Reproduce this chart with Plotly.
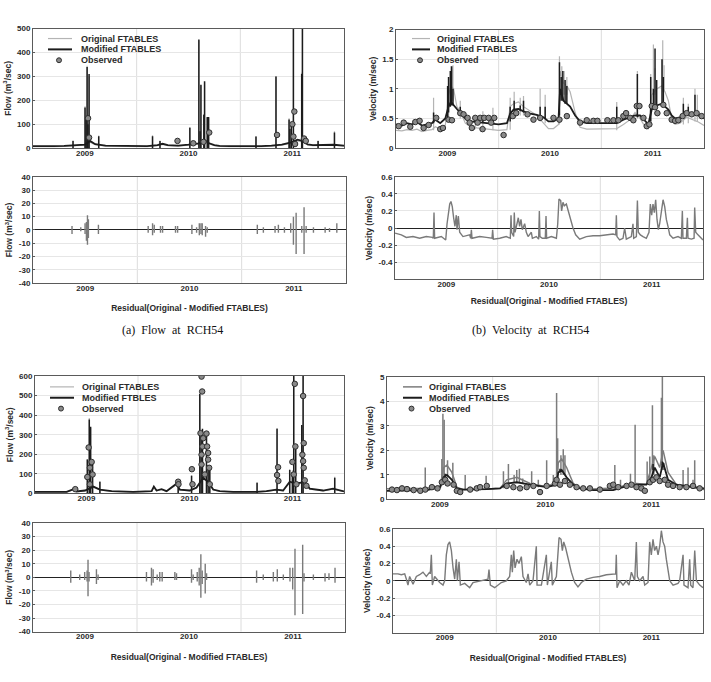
import plotly.graph_objects as go

W, H = 711, 682

# ---------------- data: (a) Flow at RCH54 ----------------
a_base_x = [2009.0, 2009.1, 2009.2, 2009.3, 2009.4, 2009.5, 2009.55, 2009.6, 2009.7, 2009.8, 2009.9,
            2010.0, 2010.1, 2010.2, 2010.25, 2010.3, 2010.4, 2010.5, 2010.6, 2010.65, 2010.7, 2010.75,
            2010.8, 2010.9, 2011.0, 2011.1, 2011.2, 2011.3, 2011.4, 2011.5, 2011.55, 2011.6, 2011.65,
            2011.7, 2011.8, 2011.9, 2012.0]
a_base_mod = [8, 7, 8, 9, 10, 14, 30, 16, 10, 9, 8, 7, 8, 12, 18, 12, 10, 14, 20, 35, 20, 12, 9, 8, 7,
              6, 8, 10, 14, 25, 35, 30, 15, 12, 12, 14, 10]
a_base_orig = [6, 5, 6, 7, 8, 12, 25, 14, 8, 7, 6, 5, 6, 10, 15, 10, 8, 12, 17, 30, 17, 10, 7, 6, 5,
               4, 6, 8, 12, 22, 30, 26, 13, 10, 10, 12, 8]
a_spk_x = [2009.386, 2009.502, 2009.512, 2009.522, 2009.530, 2009.541, 2009.634, 2010.153, 2010.225,
           2010.513, 2010.600, 2010.612, 2010.620, 2010.648, 2010.655, 2010.681, 2010.694, 2011.151,
           2011.344, 2011.470, 2011.478, 2011.492, 2011.512, 2011.592, 2011.599, 2011.750, 2011.908]
a_spk_mod = [30, 170, 120, 340, 100, 310, 50, 50, 30, 85, 455, 70, 265, 140, 280, 130, 130, 48, 300,
             120, 80, 100, 520, 310, 520, 30, 65]
a_spk_orig = [33, 175, 125, 345, 105, 300, 53, 54, 32, 88, 450, 72, 262, 142, 276, 127, 126, 50, 302,
              125, 82, 108, 510, 315, 510, 32, 70]
a_obs_x = [2009.531, 2009.541, 2010.394, 2010.546, 2010.645, 2010.700, 2011.354, 2011.502, 2011.512,
           2011.521, 2011.528, 2011.615, 2011.631]
a_obs_y = [125, 44, 30, 20, 26, 65, 55, 100, 48, 153, 17, 40, 30]
a_res_x = [2009.374, 2009.458, 2009.499, 2009.512, 2009.522, 2009.531, 2009.627, 2010.104, 2010.146,
           2010.162, 2010.222, 2010.242, 2010.366, 2010.386, 2010.523, 2010.568, 2010.594, 2010.610,
           2010.622, 2010.654, 2010.670, 2011.150, 2011.208, 2011.320, 2011.352, 2011.410, 2011.470,
           2011.496, 2011.522, 2011.576, 2011.598, 2011.618, 2011.688, 2011.800, 2011.842, 2011.912]
a_res_up = [3, 2, 5, 6, 11, 8, 4, 3, 5, 4, 3, 3, 3, 3, 4, 2, 5, 5, 5, 3, 2, 4, 2, 3, 4, 2, 5, 10, 13,
            3, 17, 3, 2, 2, 1.5, 5]
a_res_dn = [-3, -1, -3, -8, -11, -6, -3, -2, -4, -2, -2, -2, -2, -2, -3, -2, -4, -3, -4, -5, -2, -3,
            -2, -2, -2, -2, -2, -11, -18, -2, -18, -2, -2, -2, -1.5, -2]

# ---------------- data: (b) Velocity at RCH54 ----------------
b_base_x = [2009.000, 2009.058, 2009.107, 2009.156, 2009.204, 2009.253, 2009.302, 2009.350, 2009.383,
            2009.431, 2009.480, 2009.512, 2009.535, 2009.561, 2009.593, 2009.626, 2009.675, 2009.723,
            2009.788, 2009.853, 2009.918, 2009.999, 2010.080, 2010.112, 2010.145, 2010.193, 2010.242,
            2010.307, 2010.372, 2010.437, 2010.485, 2010.534, 2010.583, 2010.599, 2010.631, 2010.664,
            2010.696, 2010.745, 2010.793, 2010.858, 2010.923, 2010.988, 2011.053, 2011.150, 2011.215,
            2011.280, 2011.328, 2011.377, 2011.426, 2011.458, 2011.491, 2011.539, 2011.588, 2011.620,
            2011.653, 2011.685, 2011.718, 2011.766, 2011.831, 2011.896, 2011.945, 2012.000]
b_base_mod = [0.40, 0.38, 0.42, 0.40, 0.44, 0.38, 0.40, 0.42, 0.48, 0.42,
              0.50, 0.70, 0.78, 0.72, 0.66, 0.60, 0.50, 0.45, 0.44, 0.43,
              0.42, 0.40, 0.42, 0.58, 0.65, 0.66, 0.62, 0.58, 0.56, 0.52,
              0.45, 0.45, 0.50, 1.00, 0.80, 0.75, 0.70, 0.55, 0.45, 0.42,
              0.42, 0.42, 0.42, 0.42, 0.48, 0.52, 0.55, 0.55, 0.45, 0.40,
              0.65, 0.72, 0.75, 0.70, 0.65, 0.55, 0.50, 0.52, 0.60, 0.58,
              0.55, 0.50]
b_base_orig = [0.30, 0.29, 0.31, 0.30, 0.32, 0.28, 0.30, 0.31, 0.36, 0.32,
               0.38, 0.90, 1.05, 1.00, 0.70, 0.62, 0.42, 0.36, 0.34, 0.33,
               0.31, 0.30, 0.31, 0.70, 0.75, 0.78, 0.70, 0.62, 0.55, 0.42,
               0.33, 0.33, 0.40, 1.30, 1.10, 1.05, 0.95, 0.60, 0.35, 0.32,
               0.32, 0.32, 0.33, 0.33, 0.40, 0.48, 0.60, 0.50, 0.36, 0.32,
               0.90, 1.00, 1.05, 0.95, 0.80, 0.50, 0.40, 0.42, 0.52, 0.48,
               0.44, 0.38]
b_spk_mod_x = [2009.366, 2009.503, 2009.512, 2009.529, 2009.542, 2009.555, 2009.626, 2009.772, 2009.846,
               2009.944, 2010.112, 2010.151, 2010.210, 2010.242, 2010.404, 2010.453, 2010.592, 2010.609,
               2010.625, 2010.647, 2010.664, 2011.150, 2011.351, 2011.481, 2011.507, 2011.523, 2011.539,
               2011.591, 2011.604, 2011.799, 2011.847, 2011.912]
b_spk_mod_lo = [0.42, 0.50, 0.60, 0.70, 0.72, 0.72, 0.58, 0.44, 0.43, 0.42, 0.45, 0.62, 0.62, 0.60,
                0.52, 0.50, 0.55, 0.80, 0.80, 0.75, 0.75, 0.42, 0.52, 0.45, 0.65, 0.68, 0.70, 0.72,
                0.72, 0.52, 0.55, 0.55]
b_spk_mod_hi = [0.60, 1.05, 1.20, 1.30, 1.38, 1.00, 0.70, 0.52, 0.55, 0.55, 0.70, 0.80, 0.72, 0.80,
                0.70, 0.70, 1.45, 1.20, 1.30, 1.15, 1.05, 0.70, 1.25, 1.20, 1.00, 1.68, 1.15, 1.50,
                1.20, 0.75, 0.70, 0.90]
b_spk_orig_x = [2009.366, 2009.512, 2009.535, 2009.555, 2009.626, 2009.772, 2009.846, 2009.944,
                2010.112, 2010.151, 2010.210, 2010.242, 2010.404, 2010.453, 2010.592, 2010.615,
                2010.638, 2010.664, 2011.150, 2011.351, 2011.481, 2011.507, 2011.523, 2011.598,
                2011.611, 2011.799, 2011.847, 2011.912, 2011.935]
b_spk_orig_lo = [0.30, 0.50, 0.80, 0.80, 0.50, 0.32, 0.31, 0.30, 0.31, 0.55, 0.55, 0.55, 0.45, 0.42,
                 0.40, 0.90, 0.90, 0.90, 0.30, 0.50, 0.40, 0.90, 0.90, 0.95, 0.95, 0.40, 0.42, 0.45,
                 0.45]
b_spk_orig_hi = [0.85, 1.10, 1.38, 1.40, 0.80, 0.55, 0.62, 0.68, 0.85, 0.95, 0.85, 0.88, 1.00, 0.90,
                 1.55, 1.38, 1.30, 1.20, 0.78, 1.30, 1.25, 1.75, 1.35, 1.82, 1.40, 0.85, 0.75, 1.00,
                 0.90]
b_obs_x = [2009.026, 2009.075, 2009.139, 2009.188, 2009.230, 2009.269, 2009.318, 2009.392, 2009.431,
           2009.457, 2009.512, 2009.545, 2009.626, 2009.658, 2009.697, 2009.717, 2009.739, 2009.772,
           2009.795, 2009.820, 2009.843, 2009.859, 2009.902, 2009.927, 2009.957, 2010.048, 2010.138,
           2010.171, 2010.281, 2010.339, 2010.404, 2010.534, 2010.592, 2010.664, 2010.793, 2010.858,
           2010.923, 2010.962, 2011.059, 2011.118, 2011.166, 2011.215, 2011.241, 2011.280, 2011.312,
           2011.345, 2011.371, 2011.410, 2011.442, 2011.468, 2011.491, 2011.523, 2011.546, 2011.604,
           2011.637, 2011.685, 2011.718, 2011.750, 2011.792, 2011.831, 2011.880, 2011.928, 2011.977]
b_obs_y = [0.37, 0.43, 0.36, 0.44, 0.46, 0.34, 0.39, 0.51, 0.32, 0.34, 0.48, 0.47, 0.59, 0.57, 0.51,
           0.43, 0.34, 0.51, 0.43, 0.51, 0.32, 0.51, 0.51, 0.43, 0.51, 0.22, 0.54, 0.59, 0.57, 0.48,
           0.51, 0.51, 0.48, 0.54, 0.43, 0.47, 0.46, 0.46, 0.47, 0.47, 0.47, 0.54, 0.59, 0.51, 0.47,
           0.71, 0.71, 0.51, 0.37, 0.40, 0.71, 0.69, 0.59, 0.73, 0.59, 0.48, 0.46, 0.47, 0.54, 0.59,
           0.57, 0.59, 0.54]
b_res_x = [2009.000, 2009.062, 2009.110, 2009.175, 2009.240, 2009.305, 2009.364, 2009.373, 2009.380,
           2009.386, 2009.451, 2009.494, 2009.507, 2009.520, 2009.533, 2009.545, 2009.558, 2009.571,
           2009.584, 2009.597, 2009.604, 2009.617, 2009.630, 2009.662, 2009.727, 2009.737, 2009.744,
           2009.750, 2009.825, 2009.890, 2009.945, 2009.951, 2009.958, 2010.020, 2010.084, 2010.123,
           2010.130, 2010.136, 2010.156, 2010.162, 2010.169, 2010.188, 2010.201, 2010.214, 2010.227,
           2010.240, 2010.263, 2010.279, 2010.296, 2010.328, 2010.338, 2010.377, 2010.399, 2010.406,
           2010.412, 2010.435, 2010.464, 2010.471, 2010.477, 2010.523, 2010.572, 2010.585, 2010.597,
           2010.614, 2010.623, 2010.636, 2010.649, 2010.669, 2010.688, 2010.708, 2010.734, 2010.760,
           2010.799, 2010.864, 2010.929, 2010.994, 2011.059, 2011.124, 2011.150, 2011.156, 2011.162,
           2011.188, 2011.221, 2011.237, 2011.253, 2011.302, 2011.318, 2011.325, 2011.351, 2011.361,
           2011.370, 2011.390, 2011.416, 2011.448, 2011.474, 2011.487, 2011.500, 2011.513, 2011.526,
           2011.539, 2011.552, 2011.565, 2011.578, 2011.594, 2011.611, 2011.627, 2011.643, 2011.659,
           2011.676, 2011.708, 2011.757, 2011.789, 2011.799, 2011.805, 2011.838, 2011.848, 2011.854,
           2011.887, 2011.913, 2011.919, 2011.929, 2011.951, 2012.000]
b_res_y = [-0.06, -0.08, -0.11, -0.10, -0.12, -0.10, -0.11, -0.12, 0.18, -0.12,
           -0.10, -0.14, 0.05, 0.20, 0.28, 0.31, 0.25, 0.12, 0.02, 0.15,
           -0.02, 0.14, -0.05, -0.10, -0.08, -0.12, -0.02, -0.12, -0.10, -0.11,
           -0.12, -0.02, -0.13, -0.12, -0.10, -0.12, 0.15, -0.05, -0.10, 0.18,
           -0.05, 0.05, 0.12, 0.02, 0.10, -0.02, 0.05, -0.05, -0.10, -0.05,
           -0.12, -0.10, -0.13, 0.20, -0.10, -0.12, -0.12, 0.14, -0.12, -0.10,
           -0.12, 0.05, 0.34, 0.32, 0.20, 0.30, 0.26, 0.28, 0.20, 0.10,
           0.00, -0.08, -0.13, -0.10, -0.09, -0.09, -0.08, -0.07, -0.08, 0.15,
           -0.10, -0.14, -0.12, 0.00, -0.13, -0.10, 0.05, -0.12, -0.10, 0.32,
           -0.05, -0.08, -0.10, -0.12, -0.05, 0.28, 0.15, 0.28, 0.18, 0.33,
           0.10, -0.02, 0.05, 0.22, 0.33, 0.25, 0.10, 0.02, -0.08, -0.12,
           -0.10, -0.12, 0.20, -0.12, -0.12, 0.12, -0.12, -0.13, -0.12, 0.24,
           -0.05, -0.08, -0.14]

# ---------------- data: (c) Flow, second reach ----------------
c_base_x = [2009.000, 2009.307, 2009.388, 2009.404, 2009.485, 2009.566, 2009.630, 2009.744, 2009.954,
            2010.132, 2010.154, 2010.180, 2010.229, 2010.277, 2010.374, 2010.406, 2010.503, 2010.568,
            2010.633, 2010.681, 2010.730, 2010.794, 2010.924, 2011.150, 2011.247, 2011.344, 2011.409,
            2011.473, 2011.538, 2011.619, 2011.667, 2011.797, 2011.894, 2012.000]
c_base_mod = [8, 8, 25, 10, 15, 35, 20, 12, 8, 12, 35, 15, 22, 12, 50, 20, 15, 30, 80, 60, 20, 12, 8,
              8, 12, 20, 15, 60, 50, 60, 25, 15, 25, 10]
c_base_orig = [7, 7, 22, 9, 13, 32, 18, 11, 7, 11, 32, 13, 20, 11, 46, 18, 13, 27, 75, 56, 18, 11, 7,
               7, 11, 18, 13, 56, 46, 56, 22, 13, 22, 9]
c_spk_x = [2009.508, 2009.527, 2009.540, 2009.559, 2009.630, 2010.390, 2010.520, 2010.600, 2010.613,
           2010.626, 2010.665, 2010.681, 2010.697, 2011.156, 2011.350, 2011.473, 2011.499, 2011.512,
           2011.531, 2011.590, 2011.603, 2011.910]
c_spk_mod = [173, 378, 341, 150, 60, 65, 90, 510, 300, 330, 310, 140, 140, 55, 330, 120, 110, 620,
             250, 350, 620, 80]
c_spk_orig = [176, 385, 335, 155, 62, 68, 93, 505, 305, 320, 300, 145, 142, 57, 335, 125, 118, 615,
              255, 345, 615, 85]
c_obs_x = [2009.391, 2009.508, 2009.521, 2009.533, 2009.533, 2009.550, 2009.559, 2010.390, 2010.393,
           2010.523, 2010.529, 2010.607, 2010.617, 2010.617, 2010.617, 2010.623, 2010.626, 2010.633,
           2010.649, 2010.665, 2010.671, 2010.681, 2010.681, 2010.691, 2010.697, 2011.350, 2011.360,
           2011.363, 2011.499, 2011.512, 2011.522, 2011.528, 2011.538, 2011.596, 2011.603, 2011.603,
           2011.609, 2011.609, 2011.619, 2011.635]
c_obs_y = [22, 84, 235, 131, 47, 161, 97, 60, 47, 124, 47, 308, 597, 198, 148, 521, 240, 282, 97, 306,
           240, 207, 173, 131, 47, 94, 134, 64, 161, 97, 560, 240, 47, 198, 498, 165, 257, 131, 67, 39]
c_res_x = [2009.363, 2009.449, 2009.497, 2009.520, 2009.529, 2009.539, 2009.610, 2009.626, 2010.091,
           2010.139, 2010.155, 2010.194, 2010.219, 2010.242, 2010.364, 2010.380, 2010.524, 2010.540,
           2010.579, 2010.598, 2010.614, 2010.627, 2010.656, 2010.669, 2011.150, 2011.214, 2011.311,
           2011.349, 2011.407, 2011.471, 2011.497, 2011.519, 2011.593, 2011.606, 2011.696, 2011.808,
           2011.846, 2011.904]
c_res_up = [5, 2, 4, 5, 13, 4, 6, 2, 4, 7, 6, 2, 4, 4, 4, 3, 6, 2, 4, 7, 17, 5, 10, 3, 5, 2, 4, 6, 2,
            7, 7, 21, 24, 3, 2, 3, 3, 7]
c_res_dn = [-4, -2, -2, -3, -14, -3, -5, -2, -3, -6, -4, -2, -3, -3, -2, -2, -4, -2, -3, -6, -15, -5,
            -12, -2, -4, -2, -3, -3, -2, -3, -9, -28, -27, -3, -2, -3, -2, -4]

# ---------------- data: (d) Velocity, second reach ----------------
d_base_x = [2009.000, 2009.378, 2009.504, 2009.535, 2009.567, 2009.614, 2009.661, 2009.724, 2009.944,
            2010.070, 2010.133, 2010.228, 2010.354, 2010.511, 2010.605, 2010.621, 2010.653, 2010.700,
            2010.763, 2010.826, 2010.952, 2011.141, 2011.235, 2011.361, 2011.455, 2011.503, 2011.534,
            2011.581, 2011.613, 2011.660, 2011.739, 2011.833, 2012.000]
d_base_mod = [0.35, 0.38, 0.50, 0.90, 1.00, 0.80, 0.45, 0.40, 0.42, 0.45, 0.65, 0.70, 0.60, 0.50,
              0.60, 1.10, 1.20, 0.90, 0.60, 0.45, 0.38, 0.38, 0.50, 0.60, 0.60, 0.90, 1.30, 0.90,
              1.50, 0.80, 0.60, 0.55, 0.45]
d_base_orig = [0.43, 0.45, 0.55, 1.30, 1.40, 1.10, 0.50, 0.40, 0.42, 0.45, 0.80, 0.90, 0.65, 0.52,
               0.70, 1.50, 1.65, 1.30, 0.65, 0.45, 0.42, 0.46, 0.55, 0.65, 0.62, 1.30, 1.75, 1.30,
               2.00, 1.10, 0.60, 0.52, 0.40]
d_spk_orig_x = [2009.362, 2009.519, 2009.529, 2009.541, 2009.573, 2009.623, 2009.740, 2009.938,
                2010.102, 2010.149, 2010.203, 2010.228, 2010.253, 2010.284, 2010.369, 2010.432,
                2010.511, 2010.574, 2010.605, 2010.615, 2010.646, 2010.668, 2010.684, 2010.794,
                2011.156, 2011.210, 2011.304, 2011.348, 2011.462, 2011.487, 2011.512, 2011.525,
                2011.597, 2011.606, 2011.619, 2011.723, 2011.802, 2011.849, 2011.896, 2011.912]
d_spk_orig_lo = [0.40, 0.60, 0.60, 0.80, 0.90, 0.60, 0.40, 0.40, 0.45, 0.60, 0.70, 0.70, 0.70, 0.65,
                 0.55, 0.50, 0.50, 0.55, 0.60, 1.00, 1.00, 1.00, 1.00, 0.45, 0.40, 0.45, 0.55, 0.60,
                 0.60, 0.80, 1.00, 1.00, 1.20, 1.20, 1.20, 0.55, 0.55, 0.50, 0.50, 0.50]
d_spk_orig_hi = [1.30, 1.65, 3.50, 3.25, 1.60, 1.50, 1.00, 0.97, 1.15, 1.45, 1.00, 1.20, 1.25, 0.85,
                 1.15, 0.80, 1.60, 1.00, 4.35, 2.50, 1.80, 2.05, 1.80, 0.60, 1.40, 0.80, 1.05, 3.05,
                 1.55, 1.75, 3.85, 1.80, 4.15, 5.00, 1.50, 0.65, 1.20, 1.30, 0.80, 1.60]
d_spk_mod_x = [2009.551, 2010.637, 2011.518, 2011.606]
d_spk_mod_lo = [0.90, 1.10, 1.20, 1.40]
d_spk_mod_hi = [1.05, 1.25, 1.45, 1.55]
d_obs_x = [2009.047, 2009.094, 2009.142, 2009.189, 2009.252, 2009.315, 2009.362, 2009.425, 2009.478,
           2009.519, 2009.551, 2009.573, 2009.630, 2009.661, 2009.693, 2009.787, 2009.850, 2009.881,
           2009.944, 2010.133, 2010.196, 2010.259, 2010.322, 2010.385, 2010.448, 2010.511, 2010.590,
           2010.605, 2010.637, 2010.684, 2010.731, 2010.794, 2010.857, 2010.920, 2011.015, 2011.109,
           2011.141, 2011.188, 2011.267, 2011.314, 2011.361, 2011.408, 2011.440, 2011.487, 2011.518,
           2011.550, 2011.581, 2011.629, 2011.660, 2011.707, 2011.770, 2011.833, 2011.896, 2011.959]
d_obs_y = [0.40, 0.38, 0.45, 0.42, 0.38, 0.35, 0.40, 0.50, 0.45, 0.70, 0.80, 0.65, 0.60, 0.35, 0.30,
           0.40, 0.45, 0.50, 0.55, 0.55, 0.50, 0.45, 0.50, 0.55, 0.30, 0.55, 0.65, 0.80, 0.60, 0.75,
           0.60, 0.50, 0.45, 0.45, 0.40, 0.55, 0.60, 0.50, 0.55, 0.60, 0.50, 0.45, 0.35, 0.70, 0.80,
           0.90, 0.75, 0.80, 0.60, 0.55, 0.50, 0.50, 0.55, 0.45]
d_res_x = [2009.000, 2009.048, 2009.081, 2009.113, 2009.129, 2009.145, 2009.161, 2009.194, 2009.226,
           2009.258, 2009.290, 2009.323, 2009.355, 2009.361, 2009.371, 2009.381, 2009.403, 2009.452,
           2009.484, 2009.500, 2009.516, 2009.532, 2009.548, 2009.565, 2009.581, 2009.597, 2009.613,
           2009.623, 2009.639, 2009.652, 2009.694, 2009.742, 2009.774, 2009.839, 2009.919, 2009.929,
           2009.942, 2009.984, 2010.048, 2010.097, 2010.129, 2010.145, 2010.155, 2010.168, 2010.181,
           2010.200, 2010.219, 2010.242, 2010.258, 2010.290, 2010.307, 2010.323, 2010.355, 2010.387,
           2010.394, 2010.436, 2010.484, 2010.494, 2010.532, 2010.542, 2010.581, 2010.607, 2010.626,
           2010.639, 2010.652, 2010.671, 2010.694, 2010.726, 2010.758, 2010.790, 2010.823, 2010.871,
           2010.936, 2011.000, 2011.065, 2011.129, 2011.155, 2011.161, 2011.168, 2011.194, 2011.226,
           2011.258, 2011.284, 2011.307, 2011.339, 2011.355, 2011.365, 2011.387, 2011.420, 2011.436,
           2011.468, 2011.484, 2011.500, 2011.516, 2011.532, 2011.549, 2011.565, 2011.581, 2011.597,
           2011.613, 2011.629, 2011.645, 2011.662, 2011.678, 2011.710, 2011.758, 2011.774, 2011.807,
           2011.816, 2011.855, 2011.871, 2011.881, 2011.903, 2011.920, 2011.936, 2011.968, 2012.000]
d_res_y = [0.08, 0.08, 0.07, 0.08, 0.02, -0.05, 0.05, -0.04, 0.05, 0.07,
           0.10, 0.05, 0.10, 0.08, 0.30, -0.05, 0.05, -0.02, -0.05, 0.00,
           0.30, 0.42, 0.45, 0.35, 0.15, 0.02, 0.25, 0.00, 0.22, -0.05,
           -0.03, -0.08, -0.02, 0.00, 0.02, 0.13, -0.05, -0.08, -0.02, 0.00,
           0.05, 0.30, 0.10, 0.35, 0.15, 0.25, 0.20, 0.28, 0.05, -0.02,
           0.08, -0.05, 0.00, 0.40, -0.05, -0.05, 0.30, -0.05, 0.22, -0.05,
           0.05, 0.50, 0.48, 0.35, 0.45, 0.38, 0.25, 0.10, -0.02, -0.07,
           -0.02, 0.02, 0.04, 0.05, 0.07, 0.08, 0.08, 0.30, -0.08, 0.00,
           -0.05, 0.00, -0.05, 0.10, 0.00, 0.45, 0.05, 0.00, 0.05, -0.05,
           -0.02, 0.45, 0.30, 0.48, 0.35, 0.40, 0.30, 0.40, 0.58, 0.45,
           0.40, 0.25, 0.10, 0.00, -0.05, -0.03, 0.00, 0.30, -0.05, -0.08,
           0.25, -0.05, -0.08, 0.35, 0.00, -0.05, -0.08]

# ---------------- tick labels / legend labels / titles ----------------
year_tickvals = [2009.5, 2010.5, 2011.5]
year_labels = ["2009", "2010", "2011"]
year_bounds = [2010, 2011]
flow_a_ticks = [0, 100, 200, 300, 400, 500]
flow_c_ticks = [0, 100, 200, 300, 400, 500, 600]
vel_b_ticks = [0, 0.5, 1, 1.5, 2]
vel_b_labels = ["0", "0.5", "1", "1.5", "2"]
vel_d_ticks = [0, 1, 2, 3, 4, 5]
res_flow_ticks = [40, 30, 20, 10, 0, -10, -20, -30, -40]
res_flow_labels = ["40", "30", "20", "10", "0", "-10", "-20", "-30", "-40"]
res_vel_ticks = [0.6, 0.4, 0.2, 0, -0.2, -0.4]
res_vel_labels = ["0.6", "0.4", "0.2", "0", "-0.2", "-0.4"]
legend_labels_top = ["Original FTABLES", "Modified FTABLES", "Observed"]
legend_labels_c = ["Original FTABLES", "Modified FTBLES", "Observed"]
flow_title = "Flow (m<sup>3</sup>/sec)"
vel_title = "Velocity (m/sec)"
res_title = "Residual(Original - Modified FTABLES)"
cap_a = "(a)\u00a0\u00a0Flow\u00a0\u00a0at\u00a0\u00a0RCH54"
cap_b = "(b)\u00a0\u00a0Velocity\u00a0\u00a0at\u00a0\u00a0RCH54"

# ---------------- styles ----------------
C_ORIG = "#b4b4b4"
C_ORIG_D = "#7c7c7c"
C_MOD = "#1c1c1c"
C_RES = "#7a7a7a"
OBS_FILL = "#8a8a8a"
OBS_EDGE = "#2e2e2e"
TICKFONT = dict(family="Liberation Sans", size=8, color="#2a2a2a", weight="bold")
LEGFONT = dict(family="Liberation Sans", size=9, color="#2a2a2a", weight="bold")
TITLEF = dict(family="Liberation Sans", size=8.5, color="#2a2a2a", weight="bold")
CAPF = dict(family="Liberation Serif", size=12, color="#111111")


def segs(xs, lo, hi):
    X, Y = [], []
    for x, a, b in zip(xs, lo, hi):
        X += [x, x, None]
        Y += [a, b, None]
    return X, Y


fig = go.Figure()

panels = {
    1: dict(px=(33, 344), py=(25, 146), rng=[0, 500], tv=flow_a_ticks,
            tt=[str(v) for v in flow_a_ticks], title=flow_title, xt=None, xso=0),
    2: dict(px=(33, 346), py=(175, 283), rng=[-40, 40], tv=res_flow_ticks, tt=res_flow_labels,
            title=flow_title, xt=res_title, xso=13),
    3: dict(px=(396, 704), py=(26, 146), rng=[0, 2], tv=vel_b_ticks, tt=vel_b_labels, title=vel_title,
            xt=None, xso=0),
    4: dict(px=(395, 703), py=(175, 279), rng=[-0.6, 0.6], tv=res_vel_ticks, tt=res_vel_labels,
            title=vel_title, xt=res_title, xso=10),
    5: dict(px=(35, 344), py=(377, 496), rng=[0, 600], tv=flow_c_ticks,
            tt=[str(v) for v in flow_c_ticks], title=flow_title, xt=None, xso=0),
    6: dict(px=(33, 345), py=(526, 636), rng=[-40, 40], tv=res_flow_ticks, tt=res_flow_labels,
            title=flow_title, xt=res_title, xso=13),
    7: dict(px=(387, 704), py=(378, 502), rng=[0, 5], tv=vel_d_ticks,
            tt=[str(v) for v in vel_d_ticks], title=vel_title, xt=None, xso=0),
    8: dict(px=(393, 703), py=(532, 637), rng=[-0.6, 0.6], tv=res_vel_ticks, tt=res_vel_labels,
            title=vel_title, xt=res_title, xso=13),
}

layout = {}
shapes = []
for i, p in panels.items():
    xs = "" if i == 1 else str(i)
    xaxis = dict(
        domain=[p["px"][0] / W, p["px"][1] / W], anchor="y" + xs, range=[2009, 2012],
        tickmode="array", tickvals=year_tickvals, ticktext=year_labels, showgrid=False,
        showline=True, mirror=True, linecolor="#5a5a5a", linewidth=1, ticks="",
        ticklabelstandoff=-3, tickfont=TICKFONT, zeroline=False, fixedrange=True)
    if p["xt"]:
        xaxis["title"] = dict(text=p["xt"], font=TITLEF, standoff=p["xso"])
    layout["xaxis" + xs] = xaxis
    layout["yaxis" + xs] = dict(
        domain=[1 - p["py"][1] / H, 1 - p["py"][0] / H], anchor="x" + xs, range=p["rng"],
        tickmode="array", tickvals=p["tv"], ticktext=p["tt"], showgrid=True, gridcolor="#e6e6e6",
        gridwidth=1, showline=True, mirror=True, linecolor="#5a5a5a", linewidth=1,
        ticks="inside", ticklen=2, tickcolor="#5a5a5a", tickfont=TICKFONT,
        title=dict(text=p["title"], font=TITLEF, standoff=4),
        zeroline=(i % 2 == 0), zerolinecolor="#222222", zerolinewidth=1.3, fixedrange=True)
    for xb in year_bounds:
        shapes.append(dict(type="line", xref="x" + xs, yref="y" + xs + " domain", x0=xb, x1=xb,
                           y0=0, y1=1, line=dict(color="#dcdcdc", width=1), layer="below"))


def add_main(xa, ya, base_x, base_orig, base_mod, so, sm, obs_x, obs_y, c_orig, w_orig):
    X, Y = segs(*so)
    fig.add_trace(go.Scatter(x=X, y=Y, mode="lines", line=dict(color=c_orig, width=w_orig),
                             showlegend=False, xaxis=xa, yaxis=ya))
    fig.add_trace(go.Scatter(x=base_x, y=base_orig, mode="lines", line=dict(color=c_orig, width=w_orig),
                             showlegend=False, xaxis=xa, yaxis=ya))
    X, Y = segs(*sm)
    fig.add_trace(go.Scatter(x=X, y=Y, mode="lines", line=dict(color=C_MOD, width=1.5),
                             showlegend=False, xaxis=xa, yaxis=ya))
    fig.add_trace(go.Scatter(x=base_x, y=base_mod, mode="lines", line=dict(color=C_MOD, width=1.8),
                             showlegend=False, xaxis=xa, yaxis=ya))
    fig.add_trace(go.Scatter(x=obs_x, y=obs_y, mode="markers",
                             marker=dict(size=5.5, color=OBS_FILL, line=dict(color=OBS_EDGE, width=1)),
                             showlegend=False, xaxis=xa, yaxis=ya))


add_main("x", "y", a_base_x, a_base_orig, a_base_mod,
         (a_spk_x, [0] * len(a_spk_x), a_spk_orig), (a_spk_x, [0] * len(a_spk_x), a_spk_mod),
         a_obs_x, a_obs_y, C_ORIG, 1.2)
X, Y = segs(a_res_x, a_res_dn, a_res_up)
fig.add_trace(go.Scatter(x=X, y=Y, mode="lines", line=dict(color=C_RES, width=1.4), showlegend=False,
                         xaxis="x2", yaxis="y2"))

add_main("x3", "y3", b_base_x, b_base_orig, b_base_mod,
         (b_spk_orig_x, b_spk_orig_lo, b_spk_orig_hi), (b_spk_mod_x, b_spk_mod_lo, b_spk_mod_hi),
         b_obs_x, b_obs_y, C_ORIG, 1.2)
fig.add_trace(go.Scatter(x=b_res_x, y=b_res_y, mode="lines", line=dict(color=C_RES, width=1.4),
                         showlegend=False, xaxis="x4", yaxis="y4"))

add_main("x5", "y5", c_base_x, c_base_orig, c_base_mod,
         (c_spk_x, [0] * len(c_spk_x), c_spk_orig), (c_spk_x, [0] * len(c_spk_x), c_spk_mod),
         c_obs_x, c_obs_y, C_ORIG, 1.2)
X, Y = segs(c_res_x, c_res_dn, c_res_up)
fig.add_trace(go.Scatter(x=X, y=Y, mode="lines", line=dict(color=C_RES, width=1.4), showlegend=False,
                         xaxis="x6", yaxis="y6"))

add_main("x7", "y7", d_base_x, d_base_orig, d_base_mod,
         (d_spk_orig_x, d_spk_orig_lo, d_spk_orig_hi), (d_spk_mod_x, d_spk_mod_lo, d_spk_mod_hi),
         d_obs_x, d_obs_y, C_ORIG_D, 1.5)
fig.add_trace(go.Scatter(x=d_res_x, y=d_res_y, mode="lines", line=dict(color=C_RES, width=1.4),
                         showlegend=False, xaxis="x8", yaxis="y8"))

# ---- compact legends drawn with shapes + annotations (pixel positions) ----
ann = []


def legend_block(x0, x1, xt, rows, labels, c_orig, w_orig):
    styles = [(c_orig, w_orig), (C_MOD, 2)]
    for k in range(2):
        shapes.append(dict(type="line", xref="paper", yref="paper", x0=x0 / W, x1=x1 / W,
                           y0=1 - rows[k] / H, y1=1 - rows[k] / H,
                           line=dict(color=styles[k][0], width=styles[k][1])))
    cx = (x0 + x1) / 2 - 1
    r = 2.5
    shapes.append(dict(type="circle", xref="paper", yref="paper", x0=(cx - r) / W, x1=(cx + r) / W,
                       y0=1 - (rows[2] + r) / H, y1=1 - (rows[2] - r) / H, fillcolor=OBS_FILL,
                       line=dict(color=OBS_EDGE, width=1)))
    for k in range(3):
        ann.append(dict(text=labels[k], x=xt / W, y=1 - rows[k] / H, xref="paper", yref="paper",
                        showarrow=False, font=LEGFONT, xanchor="left", yanchor="middle"))


legend_block(48, 72, 79, [35, 46, 57], legend_labels_top, C_ORIG, 1.2)
legend_block(412, 430, 435, [35, 46, 57], legend_labels_top, C_ORIG, 1.2)
legend_block(50, 74, 80, [388, 399, 410], legend_labels_c, C_ORIG, 1.2)
legend_block(403, 422, 427, [388, 399, 410], legend_labels_top, C_ORIG_D, 1.5)

for text, xp, yp in [(cap_a, 172, 330), (cap_b, 530, 330)]:
    ann.append(dict(text=text, x=xp / W, y=1 - yp / H, xref="paper", yref="paper", showarrow=False,
                    font=CAPF, xanchor="center", yanchor="middle"))

fig.update_layout(**layout)
fig.update_layout(width=W, height=H, margin=dict(l=0, r=0, t=0, b=0), paper_bgcolor="white",
                  plot_bgcolor="white", shapes=shapes, annotations=ann, showlegend=False,
                  font=dict(family="Liberation Sans", color="#2a2a2a"), hovermode=False)

fig.write_html("out.html")
